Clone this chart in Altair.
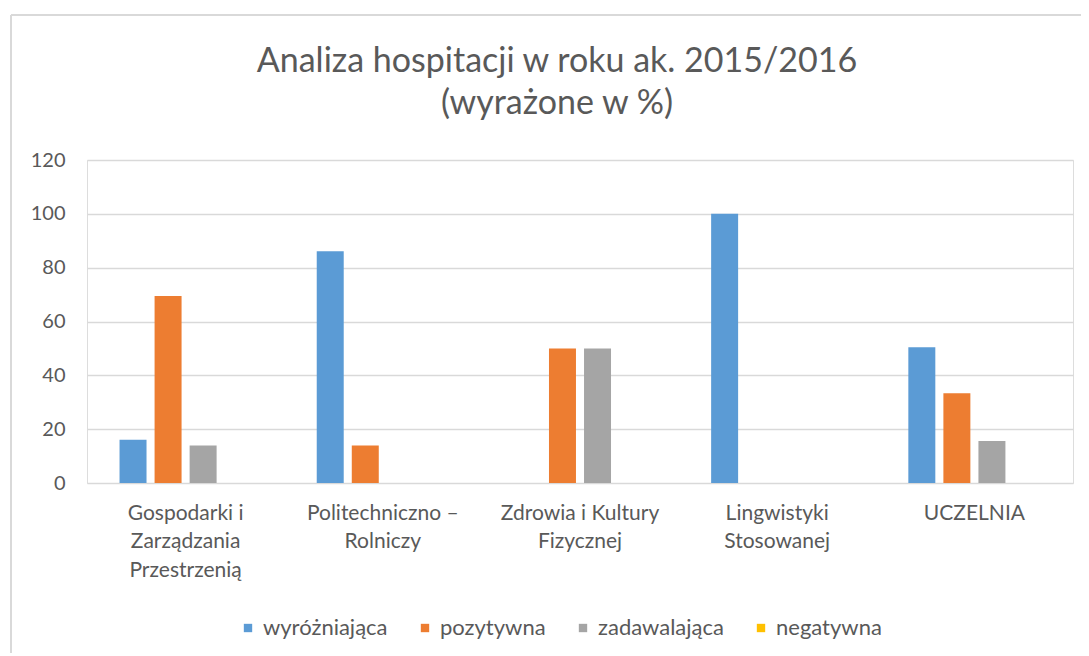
import altair as alt
import pandas as pd

categories = [
    "Gospodarki i\nZarządzania\nPrzestrzenią",
    "Politechniczno –\nRolniczy",
    "Zdrowia i Kultury\nFizycznej",
    "Lingwistyki\nStosowanej",
    "UCZELNIA",
]
series_names = ["wyróżniająca", "pozytywna", "zadawalająca", "negatywna"]
wyrozniajaca = [16.1, 86.1, 0, 100, 50.4]
pozytywna = [69.5, 13.9, 50, 0, 33.3]
zadawalajaca = [13.9, 0, 50, 0, 15.6]
negatywna = [0, 0, 0, 0, 0]
colors = ["#5B9BD5", "#ED7D31", "#A5A5A5", "#FFC000"]
y_ticks = [0, 20, 40, 60, 80, 100, 120]

rows = []
for s, vals in zip(series_names, [wyrozniajaca, pozytywna, zadawalajaca, negatywna]):
    for c, v in zip(categories, vals):
        rows.append({"kategoria": c, "seria": s, "wartosc": v})
df = pd.DataFrame(rows)

FONT = "Lato"
TXT = "#595959"

bars = alt.Chart(df).mark_bar().encode(
    x=alt.X(
        "kategoria:N",
        sort=categories,
        scale=alt.Scale(paddingInner=0.33, paddingOuter=0.165),
        axis=alt.Axis(
            title=None,
            labelAngle=0,
            labelExpr="split(datum.label, '\\n')",
            labelFontSize=21,
            labelColor=TXT,
            labelFont=FONT,
            labelLineHeight=28.5,
            labelPadding=19,
            labelBaseline="top",
            labelLimit=300,
            ticks=False,
            domain=False,
            grid=False,
        ),
    ),
    xOffset=alt.XOffset("seria:N", sort=series_names, scale=alt.Scale(paddingInner=0.23)),
    y=alt.Y(
        "wartosc:Q",
        scale=alt.Scale(domain=[0, 120], nice=False),
        axis=alt.Axis(
            title=None,
            values=y_ticks,
            labelFontSize=20,
            labelColor=TXT,
            labelFont=FONT,
            labelPadding=22,
            ticks=False,
            domain=False,
            grid=True,
            gridColor="#D9D9D9",
            gridWidth=1.5,
        ),
    ),
    color=alt.Color(
        "seria:N",
        sort=series_names,
        scale=alt.Scale(domain=series_names, range=colors),
        legend=alt.Legend(
            title=None,
            orient="none",
            direction="horizontal",
            legendX=150,
            legendY=457,
            symbolType="square",
            symbolSize=70,
            symbolStrokeWidth=0,
            labelFontSize=22,
            labelColor=TXT,
            labelFont=FONT,
            labelLimit=300,
            columnPadding=26,
            labelOffset=4,
        ),
    ),
)

frame_top = alt.Chart(pd.DataFrame({"a": [0]})).mark_rule(color="#D9D9D9", strokeWidth=2).encode(
    x=alt.value(-76), x2=alt.value(1010), y=alt.value(-145)
)
frame_left = alt.Chart(pd.DataFrame({"a": [0]})).mark_rule(color="#D9D9D9", strokeWidth=2).encode(
    x=alt.value(-76), y=alt.value(-145), y2=alt.value(500)
)

chart = alt.layer(frame_top, frame_left, bars).properties(
    width=986,
    height=323,
    autosize=alt.AutoSizeParams(type="none"),
    padding={"left": 79, "top": 152, "right": 8, "bottom": 170},
    title=alt.TitleParams(
        text=["Analiza hospitacji w roku ak. 2015/2016", "(wyrażone w %)"],
        fontSize=34,
        font=FONT,
        fontWeight="normal",
        color=TXT,
        anchor="middle",
        dx=-23,
        offset=-107,
        lineHeight=42,
    ),
).configure_view(stroke=None).configure(background="white")

chart.save("out.html", embed_options={"renderer": "svg", "actions": False})
